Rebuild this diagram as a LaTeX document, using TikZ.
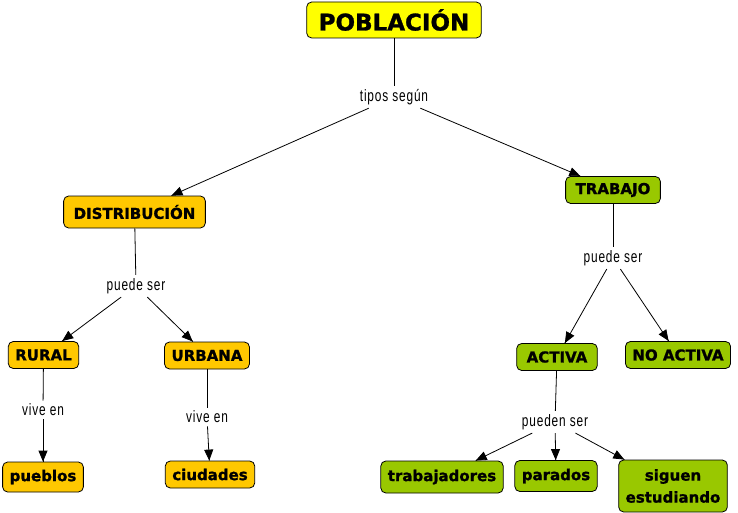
\documentclass[tikz,border=0pt]{standalone}
\usepackage{fontspec}
\setmainfont{DejaVu Sans}[BoldFeatures={FakeBold=1.2}]
\newfontfamily\linkfont[FakeStretch=0.72,LetterSpace=5]{Liberation Sans}
\usetikzlibrary{arrows.meta,
                 decorations.markings}
\definecolor{amarillo}{HTML}{FFFF00}
\definecolor{naranja}{HTML}{FFC800}
\definecolor{verde}{HTML}{99C800}
\tikzset{->/.style = {decoration={markings, mark=at position 1 with {\arrow{Triangle[length=11pt,width=9pt]}}}, postaction={decorate}}}
\tikzset{concepto/.style = {draw=black, line width=0.8pt, rounded corners=5pt, inner xsep=10pt, minimum height=27pt, align=center, font=\fontsize{15}{17}\selectfont\bfseries},
         enlace/.style = {inner sep=3pt, font=\linkfont\fontsize{16.5}{18}\selectfont}}

\begin{document}
\begin{tikzpicture}[x=1pt, y=-1pt, line width=0.8pt]
  	\useasboundingbox (0,0) rectangle (738,513);
  	% conceptos
  	\node[concepto, fill=amarillo, inner xsep=12pt, minimum height=36pt, font=\fontsize{23}{25}\selectfont\bfseries] (poblacion) at (394,20) {POBLACIÓN};
  	\node[concepto, fill=naranja, minimum height=32pt] (distribucion) at (134.5,212) {DISTRIBUCIÓN};
  	\node[concepto, fill=verde] (trabajo) at (613,190) {TRABAJO};
  	\node[concepto, fill=naranja, inner xsep=7pt] (rural) at (43.5,355) {RURAL};
  	\node[concepto, fill=naranja, inner xsep=7pt] (urbana) at (207,355.5) {URBANA};
  	\node[concepto, fill=naranja, inner xsep=7pt, minimum height=30pt] (pueblos) at (43,477) {pueblos};
  	\node[concepto, fill=naranja, inner xsep=7pt] (ciudades) at (210,474.5) {ciudades};
  	\node[concepto, fill=verde] (activa) at (557,357) {ACTIVA};
  	\node[concepto, fill=verde, inner xsep=7pt] (noactiva) at (678,355) {NO ACTIVA};
  	\node[concepto, fill=verde, inner xsep=7pt, minimum height=32pt] (trabajadores) at (442,477) {trabajadores};
  	\node[concepto, fill=verde, inner xsep=7pt, minimum height=31pt] (parados) at (556,476) {parados};
  	\node[concepto, fill=verde, inner xsep=7pt, minimum height=52pt, font=\fontsize{15}{22}\selectfont\bfseries] (siguen) at (673,486) {siguen\\estudiando};
  	% palabras de enlace
  	\node[enlace] (tipos) at (394,97) {tipos según};
  	\node[enlace] (puede1) at (136,286) {puede ser};
  	\node[enlace] (puede2) at (613,258) {puede ser};
  	\node[enlace] (vive1) at (43,410) {vive en};
  	\node[enlace] (vive2) at (207,417) {vive en};
  	\node[enlace] (pueden) at (555,422) {pueden ser};
  	% conexiones
  	\draw (poblacion) -- (tipos);
  	\draw [->] (tipos) -- (distribucion);
  	\draw [->] (tipos) -- (trabajo);
  	\draw (distribucion) -- (puede1);
  	\draw [->] (puede1) -- (rural);
  	\draw [->] (puede1) -- (urbana);
  	\draw (rural) -- (vive1);
  	\draw [->] (vive1) -- (pueblos);
  	\draw (urbana) -- (vive2);
  	\draw [->] (vive2) -- (ciudades);
  	\draw (trabajo) -- (puede2);
  	\draw [->] (puede2) -- (activa);
  	\draw [->] (puede2) -- (noactiva);
  	\draw (activa) -- (pueden);
  	\draw [->] (pueden) -- (trabajadores);
  	\draw [->] (pueden) -- (parados);
  	\draw [->] (pueden) -- (siguen);
  \end{tikzpicture}
\end{document}
